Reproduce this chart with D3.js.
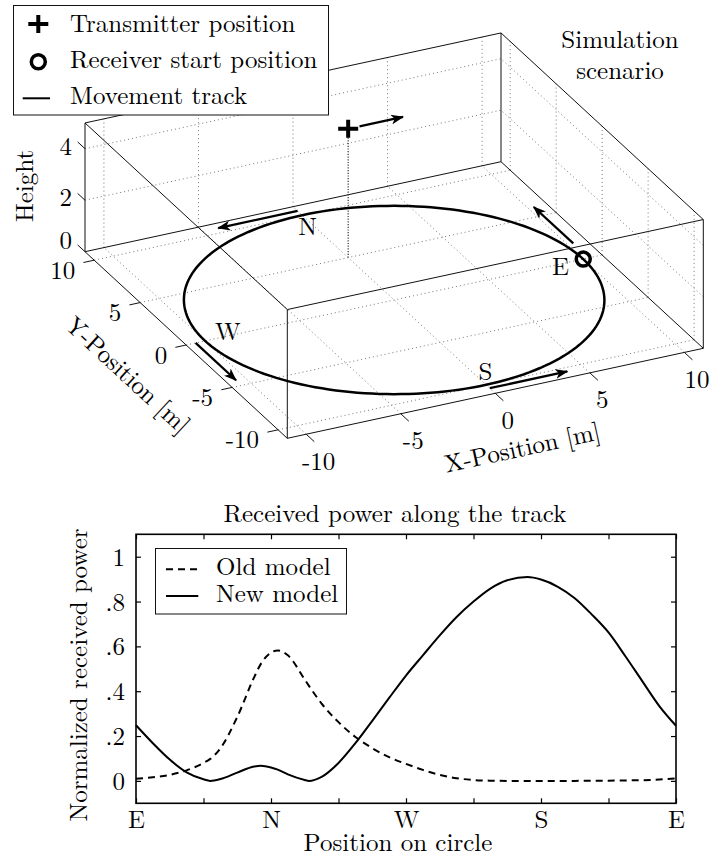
<!DOCTYPE html>
<html>
<head>
<meta charset="utf-8">
<script src="https://cdn.jsdelivr.net/npm/d3@7"></script>
<style>
  html, body { margin: 0; padding: 0; background: #fff; }
</style>
</head>
<body>
<svg id="chart" width="709" height="861"></svg>
<script>
// ---------- simulation scenario (3-D view) ----------
const axisTicks = [-10, -5, 0, 5, 10];
const axisTickLabels = ["-10", "-5", "0", "5", "10"];
const heightTicks = [0, 2, 4];
const heightTickLabels = ["0", "2", "4"];
const trackRadius = 10;
const transmitter = [0, 5, 5];
const receiverStart = [10, 0, 0];
const compassNames = ["E", "N", "W", "S"];
const compassLabelPos = [[8.7, -0.2], [-0.3, 8.8], [-8.6, 0.4], [0.6, -8.7]];
const moveArrows = [
  [[10.3, 1.7, 0], [10.3, 6.0, 0]],
  [[0, 10.5, 0], [-4.2, 10.5, 0]],
  [[-10.5, 0, 0], [-10.5, -4.4, 0]],
  [[0, -10.4, 0], [4.1, -10.4, 0]]
];
const transmitterArrow = [[0.6, 5, 5], [2.9, 5, 5]];
const legendNames = ["Transmitter position", "Receiver start position", "Movement track"];

// ---------- received power along the track ----------
const trackPos = [0, 0.25, 0.5, 0.75, 1, 1.1, 1.25, 1.5, 1.75, 1.85, 2, 2.1, 2.25, 2.5, 2.56, 2.75,
  3, 3.25, 3.5, 3.75, 4, 4.25, 4.5, 4.75, 5, 5.25, 5.5, 5.8, 6, 6.25, 6.5, 6.75, 7, 7.25, 7.5, 7.75, 8];
const oldModel = [0.010, 0.016, 0.027, 0.047, 0.080, 0.098, 0.145, 0.285, 0.462, 0.522, 0.572, 0.582,
  0.560, 0.452, 0.425, 0.345, 0.262, 0.196, 0.146, 0.106, 0.076, 0.049, 0.027, 0.012, 0.004, 0.001,
  0, 0, 0, 0, 0, 0.001, 0.001, 0.002, 0.003, 0.006, 0.011];
const newModel = [0.248, 0.168, 0.095, 0.038, 0.007, 0, 0.008, 0.037, 0.064, 0.068, 0.060, 0.050,
  0.029, 0.004, 0, 0.018, 0.080, 0.168, 0.268, 0.370, 0.470, 0.560, 0.649, 0.731, 0.800, 0.858,
  0.895, 0.909, 0.898, 0.866, 0.815, 0.743, 0.662, 0.556, 0.445, 0.335, 0.246];
const posTicks = [0, 1, 2, 3, 4, 5, 6, 7, 8];
const posTickLabels = ["E", "", "N", "", "W", "", "S", "", "E"];
const powerTicks = [0, 0.2, 0.4, 0.6, 0.8, 1];
const powerTickLabels = ["0", ".2", ".4", ".6", ".8", "1"];
const seriesNames = ["Old model", "New model"];

const svg = d3.select("#chart");
const FONT = '"Latin Modern Roman", "Liberation Serif", serif';
const FS = 25;

// ================= 3-D scenario =================
const sx = d3.scaleLinear().domain([-11, 11]).range([0, 1]);
const sy = d3.scaleLinear().domain([-11, 11]).range([0, 1]);
const sz = d3.scaleLinear().domain([0, 5]).range([0, 1]);
const P0 = [287.3, 438.3], VX = [416, -90], VY = [-202.3, -186.6], VZ = [0, -128.75];
function proj(p) {
  const a = sx(p[0]), b = sy(p[1]), c = sz(p[2]);
  return [P0[0] + a * VX[0] + b * VY[0] + c * VZ[0], P0[1] + a * VX[1] + b * VY[1] + c * VZ[1]];
}
const unit = v => { const l = Math.hypot(v[0], v[1]); return [v[0] / l, v[1] / l]; };
const line3 = d3.line().x(d => proj(d)[0]).y(d => proj(d)[1]);

const defs = svg.append("defs");
defs.append("marker").attr("id", "head")
  .attr("viewBox", "0 0 13 10").attr("refX", 12).attr("refY", 5)
  .attr("markerWidth", 13).attr("markerHeight", 10)
  .attr("markerUnits", "userSpaceOnUse").attr("orient", "auto")
  .append("path").attr("d", "M0,0 L13,5 L0,10 L3.5,5 Z").attr("fill", "#000");

const scene = svg.append("g");

// grid on the floor and the two back walls
const gridSegs = [];
axisTicks.forEach(t => {
  gridSegs.push([[t, -11, 0], [t, 11, 0]]);
  gridSegs.push([[-11, t, 0], [11, t, 0]]);
  gridSegs.push([[t, 11, 0], [t, 11, 5]]);
  gridSegs.push([[11, t, 0], [11, t, 5]]);
});
heightTicks.filter(h => h > 0).forEach(h => {
  gridSegs.push([[-11, 11, h], [11, 11, h]]);
  gridSegs.push([[11, -11, h], [11, 11, h]]);
});
scene.append("g").selectAll("path").data(gridSegs).join("path")
  .attr("d", d => line3(d)).attr("fill", "none")
  .attr("stroke", "#777").attr("stroke-width", 1).attr("stroke-dasharray", "1,3");

// bounding box
const X = [-11, 11], Y = [-11, 11], Z = [0, 5];
const boxEdges = [];
X.forEach(x => Y.forEach(y => boxEdges.push([[x, y, Z[0]], [x, y, Z[1]]])));
X.forEach(x => Z.forEach(z => boxEdges.push([[x, Y[0], z], [x, Y[1], z]])));
Y.forEach(y => Z.forEach(z => boxEdges.push([[X[0], y, z], [X[1], y, z]])));
scene.append("g").selectAll("path").data(boxEdges).join("path")
  .attr("d", d => line3(d)).attr("fill", "none").attr("stroke", "#111").attr("stroke-width", 1);

// transmitter drop line
scene.append("path")
  .attr("d", line3([[transmitter[0], transmitter[1], 0], transmitter]))
  .attr("stroke", "#333").attr("stroke-width", 1.2).attr("stroke-dasharray", "1.2,1.5");

// movement track (circle on the floor)
const circlePts = d3.range(0, 361, 2).map(a => {
  const r = a * Math.PI / 180;
  return [trackRadius * Math.cos(r), trackRadius * Math.sin(r), 0];
});
scene.append("path").attr("d", line3(circlePts))
  .attr("fill", "none").attr("stroke", "#000").attr("stroke-width", 2.5);

// direction arrows
scene.append("g").selectAll("path").data(moveArrows.concat([transmitterArrow])).join("path")
  .attr("d", d => line3(d)).attr("fill", "none").attr("stroke", "#000")
  .attr("stroke-width", 2.3).attr("marker-end", "url(#head)");

// compass labels
scene.append("g").selectAll("text").data(compassNames).join("text")
  .attr("x", (d, i) => proj([compassLabelPos[i][0], compassLabelPos[i][1], 0])[0])
  .attr("y", (d, i) => proj([compassLabelPos[i][0], compassLabelPos[i][1], 0])[1] + 8.5)
  .attr("text-anchor", "middle").attr("font-size", FS).text(d => d);

// transmitter and receiver markers
function plusMark(g, c, w, h, sw) {
  g.append("path").attr("d", `M${c[0] - w / 2},${c[1]}H${c[0] + w / 2}M${c[0]},${c[1] - h / 2}V${c[1] + h / 2}`)
    .attr("stroke", "#000").attr("stroke-width", sw);
}
plusMark(scene, proj(transmitter), 20, 18, 4);
const rc = proj(receiverStart);
scene.append("circle").attr("cx", rc[0]).attr("cy", rc[1]).attr("r", 7)
  .attr("fill", "none").attr("stroke", "#000").attr("stroke-width", 3.5);

// axis ticks
const tickG = scene.append("g").attr("stroke", "#111").attr("stroke-width", 1);
const dirX = unit([-VY[0], -VY[1]]), dirY = unit([-VX[0], -VX[1]]), dirZ = unit(VY);
axisTicks.forEach(t => {
  const p = proj([t, -11, 0]);
  tickG.append("line").attr("x1", p[0]).attr("y1", p[1]).attr("x2", p[0] + dirX[0] * 11).attr("y2", p[1] + dirX[1] * 11);
  const q = proj([-11, t, 0]);
  tickG.append("line").attr("x1", q[0]).attr("y1", q[1]).attr("x2", q[0] + dirY[0] * 11).attr("y2", q[1] + dirY[1] * 11);
});
heightTicks.forEach(h => {
  const p = proj([-11, 11, h]);
  tickG.append("line").attr("x1", p[0]).attr("y1", p[1]).attr("x2", p[0] + dirZ[0] * 10).attr("y2", p[1] + dirZ[1] * 10);
});

// tick labels
scene.append("g").selectAll("text").data(axisTicks).join("text")
  .attr("x", d => proj([d, -11, 0])[0] + 12.5).attr("y", d => proj([d, -11, 0])[1] + 35.5)
  .attr("text-anchor", "middle").attr("font-size", FS).text((d, i) => axisTickLabels[i]);
scene.append("g").selectAll("text").data(axisTicks).join("text")
  .attr("x", d => proj([-11, d, 0])[0] - 19).attr("y", d => proj([-11, d, 0])[1] + 18.5)
  .attr("text-anchor", "end").attr("font-size", FS).text((d, i) => axisTickLabels[i]);
const zLabelShift = [-3, 6, 6];
scene.append("g").selectAll("text").data(heightTicks).join("text")
  .attr("x", d => proj([-11, 11, d])[0] - 13).attr("y", (d, i) => proj([-11, 11, d])[1] + zLabelShift[i])
  .attr("text-anchor", "end").attr("font-size", FS).text((d, i) => heightTickLabels[i]);

// axis titles
const angX = Math.atan2(VX[1], VX[0]) * 180 / Math.PI;
const angY = Math.atan2(-VY[1], -VY[0]) * 180 / Math.PI;
scene.append("text").attr("transform", "translate(33,186) rotate(-90)")
  .attr("text-anchor", "middle").attr("font-size", FS).text("Height");
scene.append("text").attr("transform", `translate(122,381) rotate(${angY})`)
  .attr("text-anchor", "middle").attr("font-size", FS).text("Y-Position [m]");
scene.append("text").attr("transform", `translate(524,456) rotate(${angX})`)
  .attr("text-anchor", "middle").attr("font-size", FS).text("X-Position [m]");

// panel title
const st = scene.append("text").attr("text-anchor", "middle").attr("font-size", FS);
st.append("tspan").attr("x", 620).attr("y", 48).text("Simulation");
st.append("tspan").attr("x", 620).attr("y", 79).text("scenario");

// legend
const lg = svg.append("g");
lg.append("rect").attr("x", 13.5).attr("y", 5.5).attr("width", 315).attr("height", 109.5)
  .attr("fill", "#fff").attr("stroke", "#111").attr("stroke-width", 1);
plusMark(lg, [38.3, 24], 20, 18, 4);
lg.append("circle").attr("cx", 38.3).attr("cy", 61.7).attr("r", 7)
  .attr("fill", "none").attr("stroke", "#000").attr("stroke-width", 3.5);
lg.append("line").attr("x1", 22.7).attr("x2", 50).attr("y1", 98.3).attr("y2", 98.3)
  .attr("stroke", "#000").attr("stroke-width", 2);
lg.selectAll("text").data(legendNames).join("text")
  .attr("x", 70).attr("y", (d, i) => 31.7 + i * 36.2)
  .attr("font-size", FS).text(d => d);

// ================= received power =================
const x = d3.scaleLinear().domain([0, 8]).range([136, 676]);
const y = d3.scaleLinear().domain([-0.1, 1.1]).range([803.3, 534.3]);
const plot = svg.append("g");

const ax = (gen, tr) => plot.append("g").attr("transform", tr).call(gen)
  .call(g => g.select(".domain").remove())
  .call(g => g.selectAll(".tick line").attr("stroke", "#000").attr("stroke-width", 1.2));

ax(d3.axisBottom(x).tickValues(posTicks).tickSize(-5).tickPadding(10).tickFormat((d, i) => posTickLabels[i]), "translate(0,803.3)")
  .call(g => g.selectAll("text").attr("font-size", FS).attr("dy", null).attr("y", 24.7));
ax(d3.axisTop(x).tickValues(posTicks).tickSize(-5).tickFormat(""), "translate(0,534.3)");
ax(d3.axisLeft(y).tickValues(powerTicks).tickSize(-5).tickPadding(10).tickFormat((d, i) => powerTickLabels[i]), "translate(136,0)")
  .call(g => g.selectAll("text").attr("font-size", FS).attr("dy", null).attr("x", -11).attr("y", 8.5));
ax(d3.axisRight(y).tickValues(powerTicks).tickSize(-5).tickFormat(""), "translate(676,0)");

plot.append("rect").attr("x", 136).attr("y", 534.3).attr("width", 540).attr("height", 269)
  .attr("fill", "none").attr("stroke", "#000").attr("stroke-width", 1.6);

const pline = vals => d3.line().curve(d3.curveMonotoneX)
  .x((d, i) => x(trackPos[i])).y(d => y(d))(vals);
plot.append("path").attr("d", pline(oldModel)).attr("fill", "none")
  .attr("stroke", "#000").attr("stroke-width", 2).attr("stroke-dasharray", "7,5");
plot.append("path").attr("d", pline(newModel)).attr("fill", "none")
  .attr("stroke", "#000").attr("stroke-width", 2);

plot.append("text").attr("x", 395).attr("y", 522).attr("text-anchor", "middle")
  .attr("font-size", FS).text("Received power along the track");
plot.append("text").attr("x", 398).attr("y", 851).attr("text-anchor", "middle")
  .attr("font-size", FS).text("Position on circle");
plot.append("text").attr("transform", "translate(87,675) rotate(-90)").attr("text-anchor", "middle")
  .attr("font-size", FS).text("Normalized received power");

// series legend
const sl = plot.append("g");
sl.append("rect").attr("x", 155.5).attr("y", 548.5).attr("width", 191).attr("height", 65.5)
  .attr("fill", "#fff").attr("stroke", "#111").attr("stroke-width", 1);
sl.append("line").attr("x1", 166).attr("x2", 198.3).attr("y1", 569.3).attr("y2", 569.3)
  .attr("stroke", "#000").attr("stroke-width", 2).attr("stroke-dasharray", "7,5");
sl.append("line").attr("x1", 166).attr("x2", 198.3).attr("y1", 596).attr("y2", 596)
  .attr("stroke", "#000").attr("stroke-width", 2);
sl.selectAll("text").data(seriesNames).join("text")
  .attr("x", 216).attr("y", (d, i) => 575 + i * 26.7)
  .attr("font-size", FS).text(d => d);

// typeface for every label
svg.selectAll("text").style("font-family", FONT).style("fill", "#000");
</script>
</body>
</html>
